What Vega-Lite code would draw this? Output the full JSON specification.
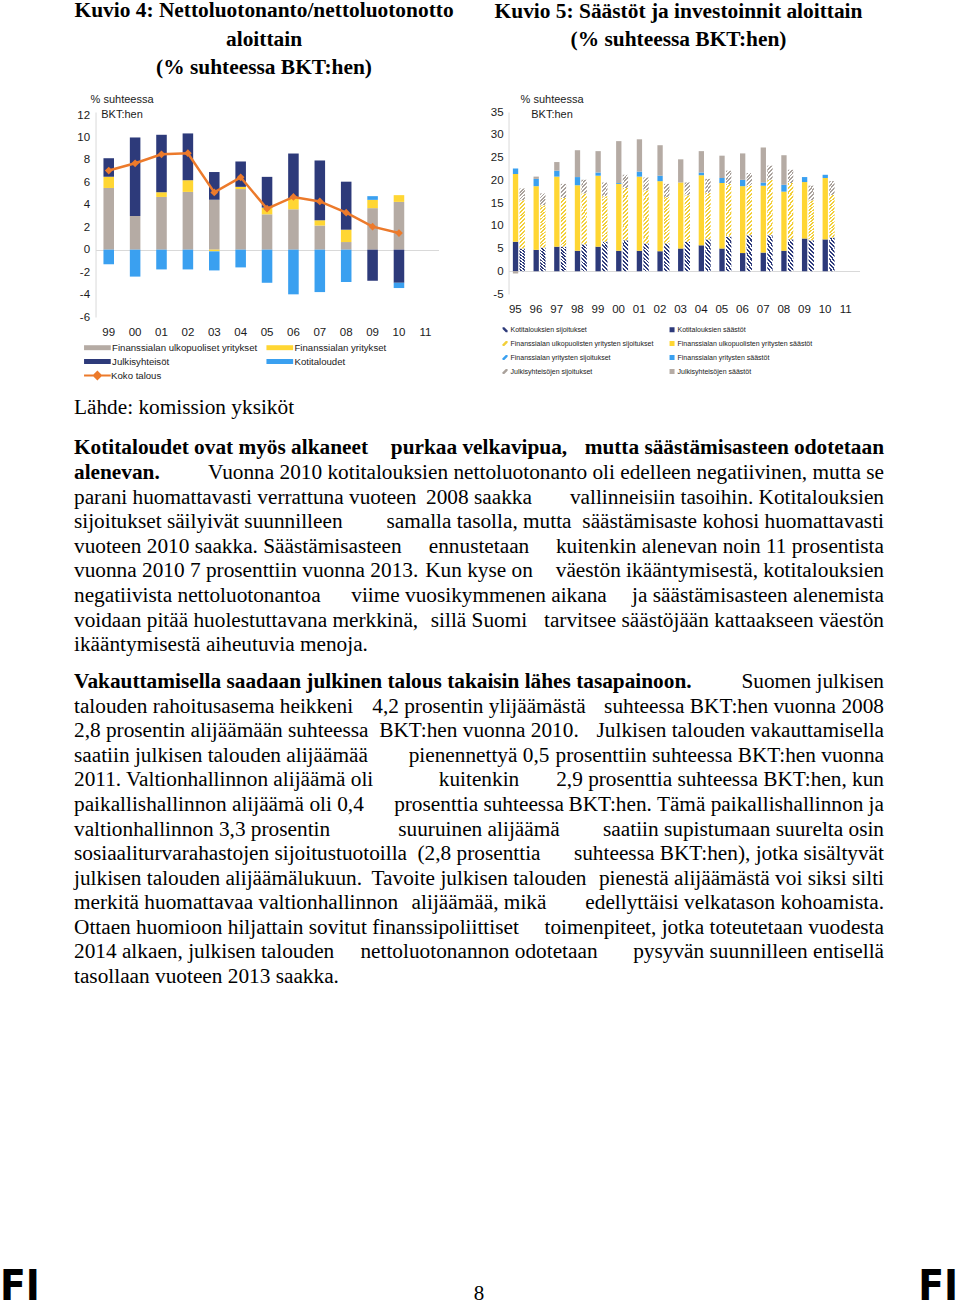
{
  "$schema": "https://vega.github.io/schema/vega-lite/v6.json",
  "padding": 0,
  "background": "white",
  "spacing": 12,
  "center": true,
  "config": {
    "view": {"stroke": null},
    "font": "Liberation Sans",
    "axis": {"labelFont": "Liberation Sans", "titleFont": "Liberation Sans", "labelColor": "#1a1a1a", "titleColor": "#1a1a1a", "ticks": false, "grid": false},
    "legend": {"labelFont": "Liberation Sans", "labelColor": "#1a1a1a", "padding": 0}
  },
  "datasets": {
    "c1": [
      {"yr":"99","s":"Finanssialan ulkopuoliset yritykset","v":5.5,"o":1},{"yr":"99","s":"Finanssialan yritykset","v":1.0,"o":2},{"yr":"99","s":"Julkisyhteisöt","v":1.65,"o":3},{"yr":"99","s":"Kotitaloudet","v":-1.3,"o":4},
      {"yr":"00","s":"Finanssialan ulkopuoliset yritykset","v":3.0,"o":1},{"yr":"00","s":"Julkisyhteisöt","v":7.0,"o":3},{"yr":"00","s":"Kotitaloudet","v":-2.4,"o":4},
      {"yr":"01","s":"Finanssialan ulkopuoliset yritykset","v":4.7,"o":1},{"yr":"01","s":"Finanssialan yritykset","v":0.42,"o":2},{"yr":"01","s":"Julkisyhteisöt","v":5.12,"o":3},{"yr":"01","s":"Kotitaloudet","v":-1.76,"o":4},
      {"yr":"02","s":"Finanssialan ulkopuoliset yritykset","v":5.15,"o":1},{"yr":"02","s":"Finanssialan yritykset","v":1.04,"o":2},{"yr":"02","s":"Julkisyhteisöt","v":4.17,"o":3},{"yr":"02","s":"Kotitaloudet","v":-1.76,"o":4},
      {"yr":"03","s":"Finanssialan ulkopuoliset yritykset","v":4.45,"o":1},{"yr":"03","s":"Finanssialan yritykset","v":-0.15,"o":2},{"yr":"03","s":"Julkisyhteisöt","v":2.47,"o":3},{"yr":"03","s":"Kotitaloudet","v":-1.7,"o":4},
      {"yr":"04","s":"Finanssialan ulkopuoliset yritykset","v":5.4,"o":1},{"yr":"04","s":"Finanssialan yritykset","v":0.2,"o":2},{"yr":"04","s":"Julkisyhteisöt","v":2.26,"o":3},{"yr":"04","s":"Kotitaloudet","v":-1.58,"o":4},
      {"yr":"05","s":"Finanssialan ulkopuoliset yritykset","v":3.15,"o":1},{"yr":"05","s":"Finanssialan yritykset","v":0.6,"o":2},{"yr":"05","s":"Julkisyhteisöt","v":2.74,"o":3},{"yr":"05","s":"Kotitaloudet","v":-2.95,"o":4},
      {"yr":"06","s":"Finanssialan ulkopuoliset yritykset","v":3.6,"o":1},{"yr":"06","s":"Finanssialan yritykset","v":1.0,"o":2},{"yr":"06","s":"Julkisyhteisöt","v":3.97,"o":3},{"yr":"06","s":"Kotitaloudet","v":-3.98,"o":4},
      {"yr":"07","s":"Finanssialan ulkopuoliset yritykset","v":2.15,"o":1},{"yr":"07","s":"Finanssialan yritykset","v":0.47,"o":2},{"yr":"07","s":"Julkisyhteisöt","v":5.33,"o":3},{"yr":"07","s":"Kotitaloudet","v":-3.78,"o":4},
      {"yr":"08","s":"Finanssialan ulkopuoliset yritykset","v":0.68,"o":1},{"yr":"08","s":"Finanssialan yritykset","v":1.1,"o":2},{"yr":"08","s":"Julkisyhteisöt","v":4.28,"o":3},{"yr":"08","s":"Kotitaloudet","v":-2.88,"o":4},
      {"yr":"09","s":"Finanssialan ulkopuoliset yritykset","v":3.7,"o":1},{"yr":"09","s":"Finanssialan yritykset","v":0.74,"o":2},{"yr":"09","s":"Julkisyhteisöt","v":-2.77,"o":3},{"yr":"09","s":"Kotitaloudet","v":0.33,"o":4},
      {"yr":"10","s":"Finanssialan ulkopuoliset yritykset","v":4.26,"o":1},{"yr":"10","s":"Finanssialan yritykset","v":0.6,"o":2},{"yr":"10","s":"Julkisyhteisöt","v":-2.95,"o":3},{"yr":"10","s":"Kotitaloudet","v":-0.47,"o":4}
    ],
    "tot": [
      {"yr":"99","s":"Koko talous","v":7.05},{"yr":"00","s":"Koko talous","v":7.7},{"yr":"01","s":"Koko talous","v":8.5},{"yr":"02","s":"Koko talous","v":8.6},
      {"yr":"03","s":"Koko talous","v":5.1},{"yr":"04","s":"Koko talous","v":6.45},{"yr":"05","s":"Koko talous","v":3.65},{"yr":"06","s":"Koko talous","v":4.7},
      {"yr":"07","s":"Koko talous","v":4.3},{"yr":"08","s":"Koko talous","v":3.3},{"yr":"09","s":"Koko talous","v":2.05},{"yr":"10","s":"Koko talous","v":1.48}
    ],
    "c2": [
      {"yr":"95","k":"S","s":"KS","v":6.5,"o":1},{"yr":"95","k":"S","s":"YS","v":14.9,"o":2},{"yr":"95","k":"S","s":"BS","v":1.2,"o":3},{"yr":"95","k":"S","s":"GS","v":-0.5,"o":4},{"yr":"95","k":"I","s":"KI","v":5.0,"o":1},{"yr":"95","k":"I","s":"YI","v":10.6,"o":2},{"yr":"95","k":"I","s":"GI","v":2.6,"o":4},
      {"yr":"96","k":"S","s":"KS","v":4.7,"o":1},{"yr":"96","k":"S","s":"YS","v":14.0,"o":2},{"yr":"96","k":"S","s":"BS","v":1.6,"o":3},{"yr":"96","k":"S","s":"GS","v":0.5,"o":4},{"yr":"96","k":"I","s":"KI","v":5.2,"o":1},{"yr":"96","k":"I","s":"YI","v":9.3,"o":2},{"yr":"96","k":"I","s":"GI","v":2.6,"o":4},
      {"yr":"97","k":"S","s":"KS","v":5.4,"o":1},{"yr":"97","k":"S","s":"YS","v":15.4,"o":2},{"yr":"97","k":"S","s":"BS","v":1.3,"o":3},{"yr":"97","k":"S","s":"GS","v":1.9,"o":4},{"yr":"97","k":"I","s":"KI","v":5.4,"o":1},{"yr":"97","k":"I","s":"YI","v":10.7,"o":2},{"yr":"97","k":"I","s":"GI","v":3.1,"o":4},
      {"yr":"98","k":"S","s":"KS","v":4.5,"o":1},{"yr":"98","k":"S","s":"YS","v":14.4,"o":2},{"yr":"98","k":"S","s":"BS","v":1.8,"o":3},{"yr":"98","k":"S","s":"GS","v":5.9,"o":4},{"yr":"98","k":"I","s":"KI","v":5.9,"o":1},{"yr":"98","k":"I","s":"YI","v":11.2,"o":2},{"yr":"98","k":"I","s":"GI","v":3.0,"o":4},
      {"yr":"99","k":"S","s":"KS","v":5.4,"o":1},{"yr":"99","k":"S","s":"YS","v":15.6,"o":2},{"yr":"99","k":"S","s":"BS","v":0.7,"o":3},{"yr":"99","k":"S","s":"GS","v":4.7,"o":4},{"yr":"99","k":"I","s":"KI","v":6.5,"o":1},{"yr":"99","k":"I","s":"YI","v":10.0,"o":2},{"yr":"99","k":"I","s":"GI","v":3.0,"o":4},
      {"yr":"00","k":"S","s":"KS","v":4.5,"o":1},{"yr":"00","k":"S","s":"YS","v":14.7,"o":2},{"yr":"00","k":"S","s":"BS","v":0.2,"o":3},{"yr":"00","k":"S","s":"GS","v":9.2,"o":4},{"yr":"00","k":"I","s":"KI","v":6.8,"o":1},{"yr":"00","k":"I","s":"YI","v":11.5,"o":2},{"yr":"00","k":"I","s":"GI","v":2.9,"o":4},
      {"yr":"01","k":"S","s":"KS","v":4.5,"o":1},{"yr":"01","k":"S","s":"YS","v":16.3,"o":2},{"yr":"01","k":"S","s":"BS","v":1.1,"o":3},{"yr":"01","k":"S","s":"GS","v":7.1,"o":4},{"yr":"01","k":"I","s":"KI","v":6.1,"o":1},{"yr":"01","k":"I","s":"YI","v":11.7,"o":2},{"yr":"01","k":"I","s":"GI","v":2.8,"o":4},
      {"yr":"02","k":"S","s":"KS","v":4.4,"o":1},{"yr":"02","k":"S","s":"YS","v":15.4,"o":2},{"yr":"02","k":"S","s":"BS","v":1.2,"o":3},{"yr":"02","k":"S","s":"GS","v":6.7,"o":4},{"yr":"02","k":"I","s":"KI","v":6.1,"o":1},{"yr":"02","k":"I","s":"YI","v":10.2,"o":2},{"yr":"02","k":"I","s":"GI","v":2.9,"o":4},
      {"yr":"03","k":"S","s":"KS","v":5.0,"o":1},{"yr":"03","k":"S","s":"YS","v":14.5,"o":2},{"yr":"03","k":"S","s":"GS","v":5.1,"o":4},{"yr":"03","k":"I","s":"KI","v":6.5,"o":1},{"yr":"03","k":"I","s":"YI","v":10.2,"o":2},{"yr":"03","k":"I","s":"GI","v":2.8,"o":4},
      {"yr":"04","k":"S","s":"KS","v":5.7,"o":1},{"yr":"04","k":"S","s":"YS","v":15.4,"o":2},{"yr":"04","k":"S","s":"BS","v":0.6,"o":3},{"yr":"04","k":"S","s":"GS","v":4.7,"o":4},{"yr":"04","k":"I","s":"KI","v":7.0,"o":1},{"yr":"04","k":"I","s":"YI","v":10.2,"o":2},{"yr":"04","k":"I","s":"GI","v":3.1,"o":4},
      {"yr":"05","k":"S","s":"KS","v":5.0,"o":1},{"yr":"05","k":"S","s":"YS","v":14.4,"o":2},{"yr":"05","k":"S","s":"BS","v":1.1,"o":3},{"yr":"05","k":"S","s":"GS","v":4.9,"o":4},{"yr":"05","k":"I","s":"KI","v":7.6,"o":1},{"yr":"05","k":"I","s":"YI","v":11.6,"o":2},{"yr":"05","k":"I","s":"GI","v":2.9,"o":4},
      {"yr":"06","k":"S","s":"KS","v":4.0,"o":1},{"yr":"06","k":"S","s":"YS","v":14.7,"o":2},{"yr":"06","k":"S","s":"BS","v":1.4,"o":3},{"yr":"06","k":"S","s":"GS","v":5.8,"o":4},{"yr":"06","k":"I","s":"KI","v":7.9,"o":1},{"yr":"06","k":"I","s":"YI","v":10.9,"o":2},{"yr":"06","k":"I","s":"GI","v":2.8,"o":4},
      {"yr":"07","k":"S","s":"KS","v":4.1,"o":1},{"yr":"07","k":"S","s":"YS","v":14.7,"o":2},{"yr":"07","k":"S","s":"BS","v":0.7,"o":3},{"yr":"07","k":"S","s":"GS","v":7.7,"o":4},{"yr":"07","k":"I","s":"KI","v":7.9,"o":1},{"yr":"07","k":"I","s":"YI","v":12.2,"o":2},{"yr":"07","k":"I","s":"GI","v":3.1,"o":4},
      {"yr":"08","k":"S","s":"KS","v":4.5,"o":1},{"yr":"08","k":"S","s":"YS","v":13.0,"o":2},{"yr":"08","k":"S","s":"BS","v":1.5,"o":3},{"yr":"08","k":"S","s":"GS","v":6.5,"o":4},{"yr":"08","k":"I","s":"KI","v":7.0,"o":1},{"yr":"08","k":"I","s":"YI","v":12.4,"o":2},{"yr":"08","k":"I","s":"GI","v":2.9,"o":4},
      {"yr":"09","k":"S","s":"KS","v":7.2,"o":1},{"yr":"09","k":"S","s":"YS","v":12.4,"o":2},{"yr":"09","k":"S","s":"BS","v":1.1,"o":3},{"yr":"09","k":"I","s":"KI","v":6.8,"o":1},{"yr":"09","k":"I","s":"YI","v":8.8,"o":2},{"yr":"09","k":"I","s":"GI","v":3.2,"o":4},
      {"yr":"10","k":"S","s":"KS","v":7.0,"o":1},{"yr":"10","k":"S","s":"YS","v":13.5,"o":2},{"yr":"10","k":"S","s":"BS","v":0.7,"o":3},{"yr":"10","k":"I","s":"KI","v":7.4,"o":1},{"yr":"10","k":"I","s":"YI","v":9.4,"o":2},{"yr":"10","k":"I","s":"GI","v":3.0,"o":4}
    ],
    "txt": [
      {"p":1,"ln":1,"sd":"L","w":"b","t":"Kotitaloudet ovat myös alkaneet"},
      {"p":1,"ln":1,"sd":"C","w":"b","t":"purkaa velkavipua,"},
      {"p":1,"ln":1,"sd":"R","w":"b","t":"mutta säästämisasteen odotetaan"},
      {"p":1,"ln":2,"sd":"L","w":"b","t":"alenevan."},
      {"p":1,"ln":2,"sd":"R","w":"n","t":"Vuonna 2010 kotitalouksien nettoluotonanto oli edelleen negatiivinen, mutta se"},
      {"p":1,"ln":3,"sd":"L","w":"n","t":"parani huomattavasti verrattuna vuoteen"},
      {"p":1,"ln":3,"sd":"C","w":"n","t":"2008 saakka"},
      {"p":1,"ln":3,"sd":"R","w":"n","t":"vallinneisiin tasoihin. Kotitalouksien"},
      {"p":1,"ln":4,"sd":"L","w":"n","t":"sijoitukset säilyivät suunnilleen"},
      {"p":1,"ln":4,"sd":"C","w":"n","t":"samalla tasolla, mutta"},
      {"p":1,"ln":4,"sd":"R","w":"n","t":"säästämisaste kohosi huomattavasti"},
      {"p":1,"ln":5,"sd":"L","w":"n","t":"vuoteen 2010 saakka.  Säästämisasteen"},
      {"p":1,"ln":5,"sd":"C","w":"n","t":"ennustetaan"},
      {"p":1,"ln":5,"sd":"R","w":"n","t":"kuitenkin alenevan noin 11 prosentista"},
      {"p":1,"ln":6,"sd":"L","w":"n","t":"vuonna 2010 7 prosenttiin vuonna 2013."},
      {"p":1,"ln":6,"sd":"C","w":"n","t":"Kun kyse on"},
      {"p":1,"ln":6,"sd":"R","w":"n","t":"väestön ikääntymisestä, kotitalouksien"},
      {"p":1,"ln":7,"sd":"L","w":"n","t":"negatiivista nettoluotonantoa"},
      {"p":1,"ln":7,"sd":"C","w":"n","t":"viime vuosikymmenen aikana"},
      {"p":1,"ln":7,"sd":"R","w":"n","t":"ja säästämisasteen alenemista"},
      {"p":1,"ln":8,"sd":"L","w":"n","t":"voidaan pitää huolestuttavana merkkinä,"},
      {"p":1,"ln":8,"sd":"C","w":"n","t":"sillä Suomi"},
      {"p":1,"ln":8,"sd":"R","w":"n","t":"tarvitsee säästöjään kattaakseen väestön"},
      {"p":1,"ln":9,"sd":"L","w":"n","t":"ikääntymisestä aiheutuvia menoja."},
      {"p":2,"ln":1,"sd":"L","w":"b","t":"Vakauttamisella saadaan julkinen talous takaisin lähes tasapainoon."},
      {"p":2,"ln":1,"sd":"R","w":"n","t":"Suomen julkisen"},
      {"p":2,"ln":2,"sd":"L","w":"n","t":"talouden rahoitusasema heikkeni"},
      {"p":2,"ln":2,"sd":"C","w":"n","t":"4,2 prosentin ylijäämästä"},
      {"p":2,"ln":2,"sd":"R","w":"n","t":"suhteessa BKT:hen vuonna 2008"},
      {"p":2,"ln":3,"sd":"L","w":"n","t":"2,8 prosentin alijäämään suhteessa"},
      {"p":2,"ln":3,"sd":"C","w":"n","t":"BKT:hen vuonna 2010."},
      {"p":2,"ln":3,"sd":"R","w":"n","t":"Julkisen talouden vakauttamisella"},
      {"p":2,"ln":4,"sd":"L","w":"n","t":"saatiin julkisen talouden alijäämää"},
      {"p":2,"ln":4,"sd":"C","w":"n","t":"pienennettyä 0,5"},
      {"p":2,"ln":4,"sd":"R","w":"n","t":"prosenttiin suhteessa BKT:hen vuonna"},
      {"p":2,"ln":5,"sd":"L","w":"n","t":"2011. Valtionhallinnon alijäämä oli"},
      {"p":2,"ln":5,"sd":"C","w":"n","t":"kuitenkin"},
      {"p":2,"ln":5,"sd":"R","w":"n","t":"2,9 prosenttia suhteessa BKT:hen, kun"},
      {"p":2,"ln":6,"sd":"L","w":"n","t":"paikallishallinnon alijäämä oli 0,4"},
      {"p":2,"ln":6,"sd":"C","w":"n","t":"prosenttia suhteessa"},
      {"p":2,"ln":6,"sd":"R","w":"n","t":"BKT:hen. Tämä paikallishallinnon ja"},
      {"p":2,"ln":7,"sd":"L","w":"n","t":"valtionhallinnon 3,3 prosentin"},
      {"p":2,"ln":7,"sd":"C","w":"n","t":"suuruinen alijäämä"},
      {"p":2,"ln":7,"sd":"R","w":"n","t":"saatiin supistumaan suurelta osin"},
      {"p":2,"ln":8,"sd":"L","w":"n","t":"sosiaaliturvarahastojen sijoitustuotoilla"},
      {"p":2,"ln":8,"sd":"C","w":"n","t":"(2,8 prosenttia"},
      {"p":2,"ln":8,"sd":"R","w":"n","t":"suhteessa BKT:hen), jotka sisältyvät"},
      {"p":2,"ln":9,"sd":"L","w":"n","t":"julkisen talouden alijäämälukuun."},
      {"p":2,"ln":9,"sd":"C","w":"n","t":"Tavoite julkisen talouden"},
      {"p":2,"ln":9,"sd":"R","w":"n","t":"pienestä alijäämästä voi siksi silti"},
      {"p":2,"ln":10,"sd":"L","w":"n","t":"merkitä huomattavaa valtionhallinnon"},
      {"p":2,"ln":10,"sd":"C","w":"n","t":"alijäämää, mikä"},
      {"p":2,"ln":10,"sd":"R","w":"n","t":"edellyttäisi velkatason kohoamista."},
      {"p":2,"ln":11,"sd":"L","w":"n","t":"Ottaen huomioon hiljattain sovitut finanssipoliittiset"},
      {"p":2,"ln":11,"sd":"R","w":"n","t":"toimenpiteet, jotka toteutetaan vuodesta"},
      {"p":2,"ln":12,"sd":"L","w":"n","t":"2014 alkaen, julkisen talouden"},
      {"p":2,"ln":12,"sd":"C","w":"n","t":"nettoluotonannon odotetaan"},
      {"p":2,"ln":12,"sd":"R","w":"n","t":"pysyvän suunnilleen entisellä"},
      {"p":2,"ln":13,"sd":"L","w":"n","t":"tasollaan vuoteen 2013 saakka."}
    ]
  },
  "vconcat": [
    {
      "spacing": 35,
      "resolve": {"scale": {"color": "independent"}, "legend": {"color": "independent"}},
      "hconcat": [
        {
          "width": 343,
          "height": 205,
          "title": {"text": ["Kuvio 4: Nettoluotonanto/nettoluotonotto", "aloittain", "(% suhteessa BKT:hen)"], "font": "Liberation Serif", "fontSize": 21.4, "fontWeight": "bold", "lineHeight": 28.5, "anchor": "middle", "frame": "group", "offset": 15, "dx": -3, "color": "#000000"},
          "encoding": {
            "x": {"field": "yr", "type": "ordinal", "scale": {"domain": ["99","00","01","02","03","04","05","06","07","08","09","10","11"], "paddingInner": 0.6, "paddingOuter": 0.3}, "axis": {"title": null, "labelAngle": 0, "domain": false, "labelFontSize": 11.5, "labelPadding": 9}},
            "y": {"field": "v", "type": "quantitative", "scale": {"domain": [-6, 12.27], "nice": false}, "axis": {"values": [-6,-4,-2,0,2,4,6,8,10,12], "labelExpr": "datum.value + ''", "domainColor": "#d9d9d9", "labelFontSize": 11.5, "labelPadding": 6, "grid": true, "gridColor": "#d9d9d9", "gridOpacity": {"condition": {"test": "datum.value === 0", "value": 1}, "value": 0}, "title": ["% suhteessa", "BKT:hen"], "titleAngle": 0, "titleAlign": "center", "titleBaseline": "alphabetic", "titleX": 26, "titleY": -9.5, "titleFontSize": 11, "titleFontWeight": "normal", "titleLineHeight": 15}}
          },
          "layer": [
            {
              "data": {"name": "c1"},
              "mark": {"type": "bar"},
              "encoding": {
                "color": {"field": "s", "type": "nominal", "scale": {"domain": ["Finanssialan ulkopuoliset yritykset", "Julkisyhteisöt", "Finanssialan yritykset", "Kotitaloudet"], "range": ["#B5ABA4", "#2D3A7A", "#FFD633", "#3AA0F0"]},
                  "legend": {"orient": "none", "legendX": -13.5, "legendY": 227.5, "direction": "vertical", "columns": 2, "columnPadding": 6.4, "rowPadding": 1, "title": null, "symbolType": "M-1.67,-0.31H1.67V0.31H-1.67Z", "symbolSize": 256, "symbolOffset": 7.36, "symbolStrokeWidth": 0, "labelOffset": 6.7, "labelFontSize": 9.6}},
                "order": {"field": "o"}
              }
            },
            {
              "data": {"name": "tot"},
              "mark": {"type": "line", "strokeWidth": 2.5, "point": {"shape": "diamond", "size": 60, "filled": true}},
              "encoding": {
                "color": {"field": "s", "type": "nominal", "scale": {"domain": ["Koko talous"], "range": ["#EC7A2B"]},
                  "legend": {"orient": "none", "legendX": -13.5, "legendY": 254.5, "title": null, "symbolType": "M-1.67,0H1.67M0,-0.45L0.45,0L0,0.45L-0.45,0Z", "symbolSize": 256, "symbolStrokeWidth": 2, "symbolOffset": 6.36, "labelOffset": 4.7, "labelFontSize": 9.6,
                    "encode": {"symbols": {"update": {"fill": {"value": "#EC7A2B"}, "stroke": {"value": "#EC7A2B"}}}}}}
              }
            }
          ],
          "resolve": {"scale": {"color": "independent"}}
        },
        {
          "width": 351,
          "height": 182,
          "title": {"text": ["Kuvio 5: Säästöt ja investoinnit aloittain", "(% suhteessa BKT:hen)"], "font": "Liberation Serif", "fontSize": 21.4, "fontWeight": "bold", "lineHeight": 28.5, "anchor": "middle", "frame": "group", "offset": 42.9, "dx": -5.5, "color": "#000000"},
          "data": {"name": "c2"},
          "transform": [{"stack": "v", "groupby": ["yr", "k"], "sort": [{"field": "o", "order": "ascending"}], "as": ["v0", "v1"]}],
          "encoding": {
            "x": {"field": "yr", "type": "ordinal", "scale": {"domain": ["95","96","97","98","99","00","01","02","03","04","05","06","07","08","09","10","11"], "paddingInner": 0.42, "paddingOuter": 0.21}, "axis": {"title": null, "labelAngle": 0, "domain": false, "labelFontSize": 11.5, "labelPadding": 9, "labelOffset": -3.5}},
            "xOffset": {"field": "k", "type": "nominal", "scale": {"domain": ["S", "I"], "paddingInner": 0.2, "paddingOuter": 0}},
            "y": {"field": "v0", "type": "quantitative", "scale": {"domain": [-5, 35], "nice": false}, "axis": {"values": [-5,0,5,10,15,20,25,30,35], "labelExpr": "datum.value + ''", "domainColor": "#d9d9d9", "labelFontSize": 11.5, "labelPadding": 5.5, "grid": true, "gridColor": "#d9d9d9", "gridOpacity": {"condition": {"test": "datum.value === 0", "value": 1}, "value": 0}, "title": ["% suhteessa", "BKT:hen"], "titleAngle": 0, "titleAlign": "center", "titleBaseline": "alphabetic", "titleX": 43, "titleY": -9.5, "titleFontSize": 11, "titleFontWeight": "normal", "titleLineHeight": 15}},
            "y2": {"field": "v1"}
          },
          "layer": [
            {
              "transform": [{"filter": "datum.k == 'S'"}],
              "mark": {"type": "bar"},
              "encoding": {
                "color": {"field": "s", "type": "nominal", "scale": {"domain": ["KI","YI","BI","GI","KS","YS","BS","GS"], "range": ["#2D3A7A","#F2CF3A","#3AA0F0","#A9A19B","#2D3A7A","#FFD633","#3AA0F0","#B5ABA4"]},
                  "legend": {"orient": "none", "legendX": -7, "legendY": 214, "direction": "vertical", "columns": 2, "columnPadding": 15, "rowPadding": 6, "title": null, "symbolType": "square", "symbolSize": 25, "symbolStrokeWidth": 0, "labelOffset": 2, "labelFontSize": 7,
                    "labelExpr": "({'KI':'Kotitalouksien sijoitukset','KS':'Kotitalouksien säästöt','YI':'Finanssialan ulkopuolisten yritysten sijoitukset','YS':'Finanssialan ulkopuolisten yritysten säästöt','BI':'Finanssialan yritysten sijoitukset','BS':'Finanssialan yritysten säästöt','GI':'Julkisyhteisöjen sijoitukset','GS':'Julkisyhteisöjen säästöt'})[datum.value]",
                    "encode": {"symbols": {"update": {"shape": {"signal": "substring(datum.value,1,2) == 'I' ? (substring(datum.value,0,1) == 'K' ? 'M-1,-1L-0.3,-1L1,0.3L1,1L0.3,1L-1,-0.3Z' : 'M1,-1L1,-0.3L-0.3,1L-1,1L-1,0.3L0.3,-1Z') : 'square'"}}}}}}
              }
            },
            {
              "transform": [{"filter": "datum.s == 'KI'"}],
              "mark": {"type": "bar", "fill": {"gradient": "linear", "x1": 1, "y1": 0, "x2": 0.786, "y2": 1.147, "stops": [
                {"offset":0,"color":"#2D3A7A"},{"offset":0.0556,"color":"#2D3A7A"},{"offset":0.0556,"color":"#ffffff"},{"offset":0.1111,"color":"#ffffff"},
                {"offset":0.1111,"color":"#2D3A7A"},{"offset":0.1667,"color":"#2D3A7A"},{"offset":0.1667,"color":"#ffffff"},{"offset":0.2222,"color":"#ffffff"},
                {"offset":0.2222,"color":"#2D3A7A"},{"offset":0.2778,"color":"#2D3A7A"},{"offset":0.2778,"color":"#ffffff"},{"offset":0.3333,"color":"#ffffff"},
                {"offset":0.3333,"color":"#2D3A7A"},{"offset":0.3889,"color":"#2D3A7A"},{"offset":0.3889,"color":"#ffffff"},{"offset":0.4444,"color":"#ffffff"},
                {"offset":0.4444,"color":"#2D3A7A"},{"offset":0.5,"color":"#2D3A7A"},{"offset":0.5,"color":"#ffffff"},{"offset":0.5556,"color":"#ffffff"},
                {"offset":0.5556,"color":"#2D3A7A"},{"offset":0.6111,"color":"#2D3A7A"},{"offset":0.6111,"color":"#ffffff"},{"offset":0.6667,"color":"#ffffff"},
                {"offset":0.6667,"color":"#2D3A7A"},{"offset":0.7222,"color":"#2D3A7A"},{"offset":0.7222,"color":"#ffffff"},{"offset":0.7778,"color":"#ffffff"},
                {"offset":0.7778,"color":"#2D3A7A"},{"offset":0.8333,"color":"#2D3A7A"},{"offset":0.8333,"color":"#ffffff"},{"offset":0.8889,"color":"#ffffff"},
                {"offset":0.8889,"color":"#2D3A7A"},{"offset":0.9444,"color":"#2D3A7A"},{"offset":0.9444,"color":"#ffffff"},{"offset":1,"color":"#ffffff"}]}}
            },
            {
              "transform": [{"filter": "datum.s == 'YI'"}],
              "mark": {"type": "bar", "fill": {"gradient": "linear", "x1": 0, "y1": 0, "x2": 0.118, "y2": 1.095, "stops": [
                {"offset":0,"color":"#F2CF3A"},{"offset":0.0357,"color":"#F2CF3A"},{"offset":0.0357,"color":"#ffffff"},{"offset":0.0714,"color":"#ffffff"},
                {"offset":0.0714,"color":"#F2CF3A"},{"offset":0.1071,"color":"#F2CF3A"},{"offset":0.1071,"color":"#ffffff"},{"offset":0.1429,"color":"#ffffff"},
                {"offset":0.1429,"color":"#F2CF3A"},{"offset":0.1786,"color":"#F2CF3A"},{"offset":0.1786,"color":"#ffffff"},{"offset":0.2143,"color":"#ffffff"},
                {"offset":0.2143,"color":"#F2CF3A"},{"offset":0.25,"color":"#F2CF3A"},{"offset":0.25,"color":"#ffffff"},{"offset":0.2857,"color":"#ffffff"},
                {"offset":0.2857,"color":"#F2CF3A"},{"offset":0.3214,"color":"#F2CF3A"},{"offset":0.3214,"color":"#ffffff"},{"offset":0.3571,"color":"#ffffff"},
                {"offset":0.3571,"color":"#F2CF3A"},{"offset":0.3929,"color":"#F2CF3A"},{"offset":0.3929,"color":"#ffffff"},{"offset":0.4286,"color":"#ffffff"},
                {"offset":0.4286,"color":"#F2CF3A"},{"offset":0.4643,"color":"#F2CF3A"},{"offset":0.4643,"color":"#ffffff"},{"offset":0.5,"color":"#ffffff"},
                {"offset":0.5,"color":"#F2CF3A"},{"offset":0.5357,"color":"#F2CF3A"},{"offset":0.5357,"color":"#ffffff"},{"offset":0.5714,"color":"#ffffff"},
                {"offset":0.5714,"color":"#F2CF3A"},{"offset":0.6071,"color":"#F2CF3A"},{"offset":0.6071,"color":"#ffffff"},{"offset":0.6429,"color":"#ffffff"},
                {"offset":0.6429,"color":"#F2CF3A"},{"offset":0.6786,"color":"#F2CF3A"},{"offset":0.6786,"color":"#ffffff"},{"offset":0.7143,"color":"#ffffff"},
                {"offset":0.7143,"color":"#F2CF3A"},{"offset":0.75,"color":"#F2CF3A"},{"offset":0.75,"color":"#ffffff"},{"offset":0.7857,"color":"#ffffff"},
                {"offset":0.7857,"color":"#F2CF3A"},{"offset":0.8214,"color":"#F2CF3A"},{"offset":0.8214,"color":"#ffffff"},{"offset":0.8571,"color":"#ffffff"},
                {"offset":0.8571,"color":"#F2CF3A"},{"offset":0.8929,"color":"#F2CF3A"},{"offset":0.8929,"color":"#ffffff"},{"offset":0.9286,"color":"#ffffff"},
                {"offset":0.9286,"color":"#F2CF3A"},{"offset":0.9643,"color":"#F2CF3A"},{"offset":0.9643,"color":"#ffffff"},{"offset":1,"color":"#ffffff"}]}}
            },
            {
              "transform": [{"filter": "datum.s == 'GI'"}],
              "mark": {"type": "bar", "fill": {"gradient": "linear", "x1": 0, "y1": 0, "x2": 0.519, "y2": 1.207, "stops": [
                {"offset":0,"color":"#A9A19B"},{"offset":0.1,"color":"#A9A19B"},{"offset":0.1,"color":"#ffffff"},{"offset":0.2,"color":"#ffffff"},
                {"offset":0.2,"color":"#A9A19B"},{"offset":0.3,"color":"#A9A19B"},{"offset":0.3,"color":"#ffffff"},{"offset":0.4,"color":"#ffffff"},
                {"offset":0.4,"color":"#A9A19B"},{"offset":0.5,"color":"#A9A19B"},{"offset":0.5,"color":"#ffffff"},{"offset":0.6,"color":"#ffffff"},
                {"offset":0.6,"color":"#A9A19B"},{"offset":0.7,"color":"#A9A19B"},{"offset":0.7,"color":"#ffffff"},{"offset":0.8,"color":"#ffffff"},
                {"offset":0.8,"color":"#A9A19B"},{"offset":0.9,"color":"#A9A19B"},{"offset":0.9,"color":"#ffffff"},{"offset":1,"color":"#ffffff"}]}}
            }
          ]
        }
      ]
    },
    {
      "width": 810,
      "height": 221.4,
      "title": {"text": "Lähde: komission yksiköt", "anchor": "start", "frame": "group", "font": "Liberation Serif", "fontSize": 21.3, "fontWeight": "normal", "color": "#000000", "offset": 18},
      "data": {"name": "txt"},
      "transform": [{"filter": "datum.p == 1"}],
      "encoding": {
        "x": {"field": "sd", "type": "nominal", "scale": {"type": "point", "domain": ["L", "C", "R"], "padding": 0}, "axis": null},
        "y": {"field": "ln", "type": "ordinal", "scale": {"type": "point", "domain": [1,2,3,4,5,6,7,8,9], "padding": 0.5}, "axis": null},
        "text": {"field": "t"}
      },
      "layer": [
        {"transform": [{"filter": "datum.sd == 'L' && datum.w == 'n'"}], "mark": {"type": "text", "align": "left", "baseline": "middle", "font": "Liberation Serif", "fontSize": 21.3, "color": "#000000"}},
        {"transform": [{"filter": "datum.sd == 'C' && datum.w == 'n'"}], "mark": {"type": "text", "align": "center", "baseline": "middle", "font": "Liberation Serif", "fontSize": 21.3, "color": "#000000"}},
        {"transform": [{"filter": "datum.sd == 'R' && datum.w == 'n'"}], "mark": {"type": "text", "align": "right", "baseline": "middle", "font": "Liberation Serif", "fontSize": 21.3, "color": "#000000"}},
        {"transform": [{"filter": "datum.sd == 'L' && datum.w == 'b'"}], "mark": {"type": "text", "align": "left", "baseline": "middle", "font": "Liberation Serif", "fontSize": 21.3, "fontWeight": "bold", "color": "#000000"}},
        {"transform": [{"filter": "datum.sd == 'C' && datum.w == 'b'"}], "mark": {"type": "text", "align": "center", "baseline": "middle", "font": "Liberation Serif", "fontSize": 21.3, "fontWeight": "bold", "color": "#000000"}},
        {"transform": [{"filter": "datum.sd == 'R' && datum.w == 'b'"}], "mark": {"type": "text", "align": "right", "baseline": "middle", "font": "Liberation Serif", "fontSize": 21.3, "fontWeight": "bold", "color": "#000000"}}
      ]
    },
    {
      "width": 810,
      "height": 297,
      "data": {"name": "txt"},
      "transform": [{"filter": "datum.p == 2"}],
      "encoding": {
        "x": {"field": "sd", "type": "nominal", "scale": {"type": "point", "domain": ["L", "C", "R"], "padding": 0}, "axis": null},
        "y": {"field": "ln", "type": "ordinal", "scale": {"type": "point", "domain": [1,2,3,4,5,6,7,8,9,10,11,12,13], "padding": 0.037}, "axis": null},
        "text": {"field": "t"}
      },
      "layer": [
        {"transform": [{"filter": "datum.sd == 'L' && datum.w == 'n'"}], "mark": {"type": "text", "align": "left", "baseline": "middle", "font": "Liberation Serif", "fontSize": 21.3, "color": "#000000"}},
        {"transform": [{"filter": "datum.sd == 'C' && datum.w == 'n'"}], "mark": {"type": "text", "align": "center", "baseline": "middle", "font": "Liberation Serif", "fontSize": 21.3, "color": "#000000"}},
        {"transform": [{"filter": "datum.sd == 'R' && datum.w == 'n'"}], "mark": {"type": "text", "align": "right", "baseline": "middle", "font": "Liberation Serif", "fontSize": 21.3, "color": "#000000"}},
        {"transform": [{"filter": "datum.sd == 'L' && datum.w == 'b'"}], "mark": {"type": "text", "align": "left", "baseline": "middle", "font": "Liberation Serif", "fontSize": 21.3, "fontWeight": "bold", "color": "#000000"}}
      ]
    },
    {
      "width": 958,
      "height": 300,
      "data": {"values": [{"pos": "L", "t": "FI", "r": "f"}, {"pos": "C", "t": "8", "r": "f"}, {"pos": "R", "t": "FI", "r": "f"}]},
      "encoding": {
        "x": {"field": "pos", "type": "nominal", "scale": {"type": "point", "domain": ["L", "C", "R"], "padding": 0}, "axis": null},
        "y": {"field": "r", "type": "nominal", "scale": {"type": "point", "padding": 0, "align": 1}, "axis": null},
        "text": {"field": "t"}
      },
      "layer": [
        {"transform": [{"filter": "datum.pos == 'L'"}], "mark": {"type": "text", "align": "left", "baseline": "alphabetic", "font": "Liberation Sans Narrow, DejaVu Sans Condensed, sans-serif", "fontSize": 42, "fontWeight": "bold", "color": "#000000"}},
        {"transform": [{"filter": "datum.pos == 'C'"}], "mark": {"type": "text", "align": "center", "baseline": "alphabetic", "font": "Liberation Serif", "fontSize": 21, "color": "#000000"}},
        {"transform": [{"filter": "datum.pos == 'R'"}], "mark": {"type": "text", "align": "right", "baseline": "alphabetic", "font": "Liberation Sans Narrow, DejaVu Sans Condensed, sans-serif", "fontSize": 42, "fontWeight": "bold", "color": "#000000"}}
      ]
    }
  ]
}
